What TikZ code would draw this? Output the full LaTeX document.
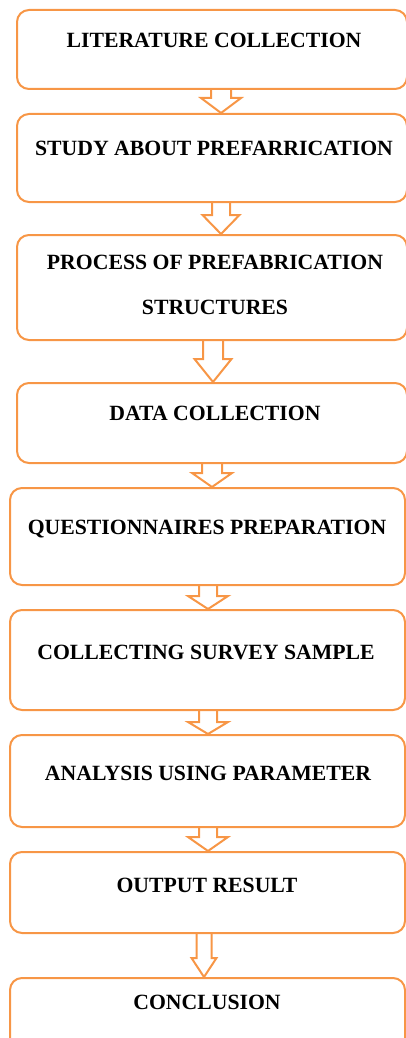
\documentclass[tikz,border=0pt]{standalone}
\usepackage{fontspec}
\setmainfont{Liberation Serif}
\usetikzlibrary{calc}

\definecolor{flowline}{RGB}{247,150,70}
\tikzset{
  stepbox/.style={rectangle, draw=flowline, line width=1.5pt, rounded corners=9pt, inner sep=0pt},
  widebox/.style={stepbox, minimum width=292.5pt},
  lowbox/.style={stepbox, minimum width=296.25pt},
  steplabel/.style={inner sep=0pt, font=\bfseries\fontsize{16.3}{19}\selectfont, text height=10.8pt, text depth=0pt},
  twolabel/.style={inner sep=0pt, align=center, font=\bfseries\fontsize{16.3}{33.75}\selectfont},
  arrowline/.style={draw=flowline, line width=1.5pt, line join=miter}
}
\newcommand{\flowarrow}[6]{%
  \coordinate (#1s) at (#3,0 |- #1.south);
  \coordinate (#2n) at (#3,0 |- #2.north);
  \draw[arrowline] ($(#1s)+(-#4,0)$) -- ($(#2n)+(-#4,-#6)$) -- ($(#2n)+(-#5,-#6)$) -- (#2n)
    -- ($(#2n)+(#5,-#6)$) -- ($(#2n)+(#4,-#6)$) -- ($(#1s)+(#4,0)$);
}

\begin{document}
\begin{tikzpicture}[x=0.75pt, y=-0.75pt]
\useasboundingbox (0,0) rectangle (406,1038);
\node[widebox, minimum height=59.25pt] (lit)   at (212,49.5) {};
\node[widebox, minimum height=66pt]    (study) at (212,158) {};
\node[widebox, minimum height=78.75pt] (proc)  at (212,287.5) {};
\node[widebox, minimum height=60pt]    (data)  at (212,423) {};
\node[lowbox, minimum height=72.75pt]  (quest) at (207.5,536.5) {};
\node[lowbox, minimum height=75pt]     (surv)  at (207.5,660) {};
\node[lowbox, minimum height=69pt]     (anal)  at (207.5,781) {};
\node[lowbox, minimum height=60.75pt]  (out)   at (207.5,892.5) {};
\node[lowbox, minimum height=54pt]     (conc)  at (207.5,1014) {};
\node[steplabel] (litlabel)   at (214,40)   {LITERATURE COLLECTION};
\node[steplabel] (studylabel) at (214,148)  {STUDY ABOUT PREFARRICATION};
\node[twolabel]  (proclabel)  at (215,284.5) {PROCESS OF PREFABRICATION\\STRUCTURES};
\node[steplabel] (datalabel)  at (215,413)  {DATA COLLECTION};
\node[steplabel] (questlabel) at (207,527)  {QUESTIONNAIRES PREPARATION};
\node[steplabel] (survlabel)  at (206,652)  {COLLECTING SURVEY SAMPLE};
\node[steplabel] (anallabel)  at (208,773)  {ANALYSIS USING PARAMETER};
\node[steplabel] (outlabel)   at (207,885)  {OUTPUT RESULT};
\node[steplabel] (conclabel)  at (207,1002) {CONCLUSION};
\flowarrow{lit}{study}{221}{10}{20}{15}
\flowarrow{study}{proc}{221}{9}{18.5}{19}
\flowarrow{proc}{data}{213}{10}{18.5}{23}
\flowarrow{data}{quest}{212}{10}{20}{14}
\flowarrow{quest}{surv}{208}{9}{20}{13}
\flowarrow{surv}{anal}{208}{9}{20}{12}
\flowarrow{anal}{out}{208}{9}{20}{14}
\flowarrow{out}{conc}{204}{7.5}{12.5}{19}
\end{tikzpicture}
\end{document}
